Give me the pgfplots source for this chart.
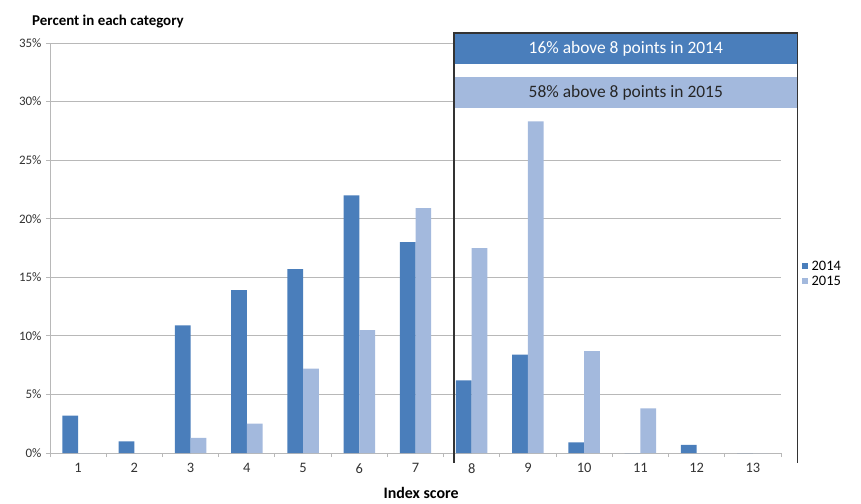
\documentclass[border=0pt]{standalone}
\usepackage{pgfplots}
\pgfplotsset{compat=1.18}
\usepackage{fontspec}
\setmainfont{Carlito}
\definecolor{dark}{HTML}{4A7EBB}
\definecolor{light}{HTML}{A3B9DD}
\definecolor{gridc}{HTML}{B8B8B8}
\begin{document}
\begin{tikzpicture}
\begin{axis}[
  at={(0,0)}, anchor=south west,
  scale only axis, width=731bp, height=410bp,
  xmin=0.5, xmax=13.5, ymin=0, ymax=35,
  axis lines*=left,
  axis line style={gridc, line width=1pt},
  xtick={1,...,13},
  minor xtick={0.5,1.5,...,13.5},
  ytick={0,5,...,35},
  major x tick style={draw=none},
  minor x tick style={gridc, line width=1pt},
  y tick style={gridc, line width=1pt},
  tick align=outside,
  minor tick length=4bp, major tick length=4bp,
  ymajorgrids, grid style={gridc, line width=1pt},
  /pgf/number format/assume math mode=true,
  yticklabel={\pgfmathprintnumber{\tick}\%},
  yticklabel style={font=\fontsize{13}{15}\selectfont, text=black!80, xshift=-1bp},
  xticklabel style={font=\fontsize{14.5}{16}\selectfont, text=black!80, yshift=-3bp},
  ybar, bar width=0.28,
  clip=false,
  legend style={at={(1.028,0.437)}, anchor=west, draw=none, fill=none,
    font=\fontsize{14.5}{16}\selectfont, row sep=4bp, inner sep=0pt,
    nodes={inner xsep=4bp, inner ysep=0bp}},
  legend cell align=left,
  legend image code/.code={\fill[#1] (0bp,-3bp) rectangle (6bp,3bp);},
]
\addplot[fill=dark, draw=none, bar shift=-0.14] coordinates {
 (1,3.2) (2,1.0) (3,10.9) (4,13.9) (5,15.7) (6,22.0) (7,18.0) (8,6.2) (9,8.4) (10,0.9) (11,0) (12,0.7) (13,0)};
\addplot[fill=light, draw=none, bar shift=0.14] coordinates {
 (1,0) (2,0) (3,1.3) (4,2.5) (5,7.2) (6,10.5) (7,20.9) (8,17.5) (9,28.3) (10,8.7) (11,3.8) (12,0) (13,0)};
\legend{2014,2015}
\fill[dark] (axis cs:7.684,35.85) rectangle (axis cs:13.8,33.2);
\fill[light] (axis cs:7.684,32.1) rectangle (axis cs:13.8,29.45);
\node[text=white, font=\fontsize{17.5}{19}\selectfont] at (axis cs:10.74,34.52) {16\% above 8 points in 2014};
\node[text=black!85, font=\fontsize{17.5}{19}\selectfont] at (axis cs:10.74,30.78) {58\% above 8 points in 2015};
\draw[black!80, line width=1.2pt] (axis cs:7.684,-0.85) -- (axis cs:7.684,35.85) -- (axis cs:13.8,35.85) -- (axis cs:13.8,-0.85);
\node[anchor=west, font=\bfseries\fontsize{15}{17}\selectfont, inner sep=0pt] at (axis cs:0.18,36.8) {Percent in each category};
\node[font=\bfseries\fontsize{16}{18}\selectfont] at (axis cs:7.1,-3.45) {Index score};
\end{axis}
\useasboundingbox (-50bp,-51bp) rectangle (811bp,453bp);
\end{tikzpicture}
\end{document}
